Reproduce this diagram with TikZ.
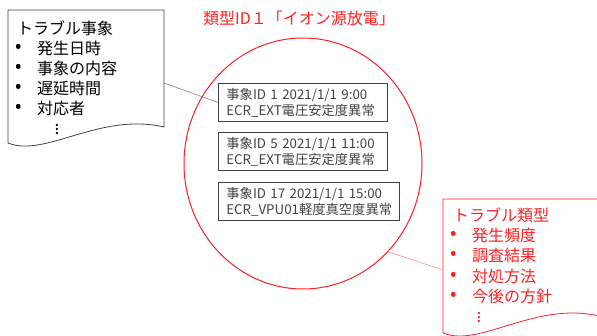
\documentclass[tikz,border=0pt]{standalone}
\usepackage{fontspec}
\setmainfont{Noto Sans CJK JP}
\usetikzlibrary{shapes.geometric,positioning}

\definecolor{docgray}{HTML}{404040}
\definecolor{linkgray}{HTML}{808080}
\definecolor{grpred}{HTML}{FF2020}
\definecolor{linkred}{HTML}{FF8C8C}

\tikzset{
  docshape/.style={line width=0.8pt, line join=round},
  head/.style={anchor=west, inner sep=0pt, font=\fontsize{16}{20}\selectfont},
  item/.style={anchor=west, inner sep=0pt, font=\fontsize{16}{20}\selectfont},
  bul/.style={inner sep=0pt, font=\fontsize{19}{20}\selectfont},
  more/.style={inner sep=0pt, font=\fontsize{17}{17}\selectfont},
  event/.style={draw=docgray, line width=0.8pt, anchor=north west, align=left,
    inner xsep=8pt, inner ysep=3pt, minimum height=38pt, text=docgray,
    font=\fontsize{13.3}{16}\selectfont},
}

\begin{document}
\begin{tikzpicture}[x=1pt,y=1pt]
	\useasboundingbox (0,0) rectangle (597,-336);
	
	% left: trouble event document
	\draw[docshape, draw=docgray] (8,-10) -- (164,-10) -- (164,-127)
		.. controls (100,-112) and (45,-158) .. (8,-143) -- cycle;
	\coordinate (docleft) at (164,-83);
	\node[head] (evhead) at (17,-28) {トラブル事象};
	\node[bul] (eb1) at (19,-48) {\textbullet};
	\node[bul] (eb2) at (19,-68) {\textbullet};
	\node[bul] (eb3) at (19,-88) {\textbullet};
	\node[bul] (eb4) at (19,-108) {\textbullet};
	\node[item] (ei1) at (37,-48) {発生日時};
	\node[item] (ei2) at (37,-68) {事象の内容};
	\node[item] (ei3) at (37,-88) {遅延時間};
	\node[item] (ei4) at (37,-108) {対応者};
	\node[more] (emore) at (57,-127) {$\vdots$};
	
	% centre: type group
	\node[text=grpred, anchor=west, inner sep=0pt, font=\fontsize{16}{20}\selectfont]
		(grptitle) at (203,-18) {類型ID１「イオン源放電」};
	\node[draw=grpred, line width=1pt, ellipse, minimum width=238pt, minimum height=251pt]
		(grp) at (303,-163.5) {};
	\node[event, text width=153pt] (ev1) at (218,-83) {事象ID 1 2021/1/1 9:00\\ECR\_EXT電圧安定度異常};
	\node[event, text width=153pt] (ev2) at (218,-132) {事象ID 5 2021/1/1 11:00\\ECR\_EXT電圧安定度異常};
	\node[event, text width=165pt] (ev3) at (218,-182) {事象ID 17 2021/1/1 15:00\\ECR\_VPU01軽度真空度異常};
	
	% right: trouble type document
	\draw[docshape, draw=grpred] (443,-199) -- (599,-199) -- (599,-316)
		.. controls (535,-301) and (480,-348) .. (443,-333) -- cycle;
	\coordinate (docright) at (443,-270);
	\node[head, text=grpred] (tphead) at (453,-215) {トラブル類型};
	\node[bul, text=grpred] (tb1) at (454,-235) {\textbullet};
	\node[bul, text=grpred] (tb2) at (454,-255) {\textbullet};
	\node[bul, text=grpred] (tb3) at (454,-276) {\textbullet};
	\node[bul, text=grpred] (tb4) at (454,-296) {\textbullet};
	\node[item, text=grpred] (ti1) at (472,-235) {発生頻度};
	\node[item, text=grpred] (ti2) at (472,-255) {調査結果};
	\node[item, text=grpred] (ti3) at (472,-276) {対処方法};
	\node[item, text=grpred] (ti4) at (472,-296) {今後の方針};
	\node[more, text=grpred] (tmore) at (479,-315) {$\vdots$};
	
	% links
	\draw[linkgray, line width=0.6pt] (docleft) -- (ev1.west);
	\draw[linkred, line width=0.6pt] (grp.-46) -- (docright);
\end{tikzpicture}
\end{document}
